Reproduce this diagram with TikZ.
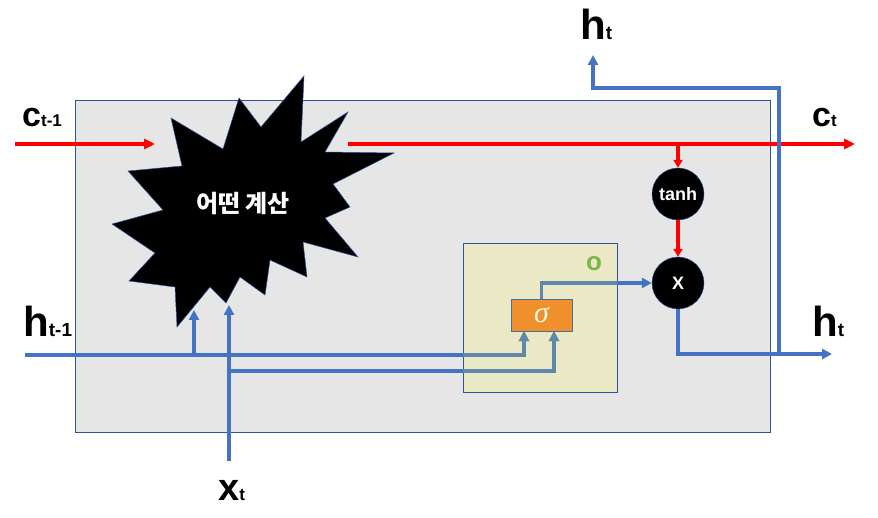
\documentclass[tikz,border=0pt]{standalone}
\usepackage{fontspec}
\setmainfont{Liberation Sans}
\newfontfamily\krfont{Noto Sans CJK KR}
\newfontfamily\greekfont{Liberation Serif}
\usetikzlibrary{arrows.meta}

\definecolor{lstmblue}{HTML}{4472C4}
\definecolor{boxline}{HTML}{2F5597}
\definecolor{cellgray}{HTML}{E6E6E6}
\definecolor{gatefill}{HTML}{EBE8C5}
\definecolor{gatearrow}{HTML}{5F87A9}
\definecolor{gateedge}{HTML}{41719C}
\definecolor{sigorange}{HTML}{F0902C}
\definecolor{sigtext}{HTML}{FFF8E0}
\definecolor{dotgreen}{HTML}{7AB648}

% variable name with subscript
\newcommand{\varlabel}[4]{{\fontsize{#1}{#1}\selectfont #3}{\fontsize{#2}{#2}\selectfont #4}}
% wires through the gate box
\newcommand{\gatewires}[1]{%
  \draw[bluewire,#1] (hin) -| ([xshift=-17.5pt]sig.south);
  \draw[bluewire,#1] (xbend) -| ([xshift=12.5pt]sig.south);
  \draw[bluewire,#1] (sig.north) |- (mult.west);
}

\begin{document}
\begin{tikzpicture}[x=1pt,y=-1pt,
    redwire/.style={red,line width=3.3pt,-{Triangle[length=11pt,width=10pt]}},
    redshort/.style={red,line width=3.3pt,-{Triangle[length=8pt,width=9pt]}},
    bluewire/.style={lstmblue,line width=3.3pt,-{Triangle[length=10pt,width=10pt]}},
    opnode/.style={circle,fill=black,draw=boxline,minimum size=52pt,inner sep=0pt,
      text=white,font=\bfseries\fontsize{18}{18}\selectfont},
    gatenode/.style={draw=gateedge,fill=sigorange,minimum width=61pt,minimum height=32pt,
      inner sep=0pt,text=sigtext},
    varname/.style={anchor=base west,inner sep=0pt,font=\bfseries}]
  \useasboundingbox (0,0) rectangle (878,518);

  % cell and gate boxes
  \draw[boxline,fill=cellgray,line width=0.8pt] (75,100) rectangle (770,432);
  \draw[boxline,fill=gatefill,line width=0.8pt] (463,243) rectangle (617,392);

  % the black star
  \fill[black,draw=boxline,line width=0.5pt]
    (304,76) -- (301,142) -- (348,112) -- (325,152) -- (394,153) -- (333,184)
    -- (350,207) -- (325,218) -- (358,257) -- (303,242) -- (307,277) -- (270,260)
    -- (265,295) -- (240,277) -- (226,303) -- (210,287) -- (177,327) -- (175,287)
    -- (129,281) -- (155,253) -- (112,224) -- (163,210) -- (128,171) -- (182,166)
    -- (171,118) -- (223,149) -- (239,98) -- (261,127) -- cycle;
  \node[text=white,font=\krfont\bfseries\fontsize{24}{24}\selectfont] (calc) at (243,204) {어떤 계산};

  \node[opnode] (tanh) at (678,194) {tanh};
  \node[opnode] (mult) at (678,283) {X};
  \node[gatenode,font=\greekfont\itshape\fontsize{30}{30}\selectfont] (sig) at (541.5,315) {σ};
  \node[text=dotgreen,font=\bfseries\fontsize{26}{26}\selectfont,inner sep=0pt] (odot) at (594,264) {o};

  \coordinate (cleft) at (15,144);
  \coordinate (cin) at (155,144);
  \coordinate (cout) at (348,144);
  \coordinate (cright) at (855,144);
  \coordinate (hin) at (25,355);
  \coordinate (hstar) at (194,310);
  \coordinate (xin) at (229,461);
  \coordinate (xstar) at (229,305);
  \coordinate (xbend) at (229,371);
  \coordinate (hout) at (832,354);
  \coordinate (split) at (779,354);
  \coordinate (hup) at (593,55);

  % cell state
  \draw[redwire] (cleft) -- (cin);
  \draw[redwire] (cout) -- (cright);
  \draw[redshort] (tanh.north |- cout) -- (tanh.north);
  \draw[redshort] (tanh) -- (mult);

  % hidden state and input
  \draw[bluewire] (hin -| hstar) -- (hstar);
  \draw[bluewire] (xin) -- (xstar);
  \gatewires{}
  \begin{scope}
    \clip (463,243) rectangle (617,392);
    \gatewires{gatearrow}
  \end{scope}
  \draw[bluewire] (mult.south) |- (hout);
  \draw[bluewire] (split) -- (779,88) -| (hup);

  % labels
  \node[varname] (clast) at (22,127) {\varlabel{34}{17}{c}{t-1}};
  \node[varname] (hlast) at (23,337) {\varlabel{42}{19}{h}{t-1}};
  \node[varname] (cnow) at (812,127) {\varlabel{34}{17}{c}{t}};
  \node[varname] (hnow) at (812,337) {\varlabel{42}{19}{h}{t}};
  \node[varname] (htop) at (580,40) {\varlabel{42}{19}{h}{t}};
  \node[varname] (xnow) at (218,500) {\varlabel{38}{17}{x}{t}};
\end{tikzpicture}
\end{document}
